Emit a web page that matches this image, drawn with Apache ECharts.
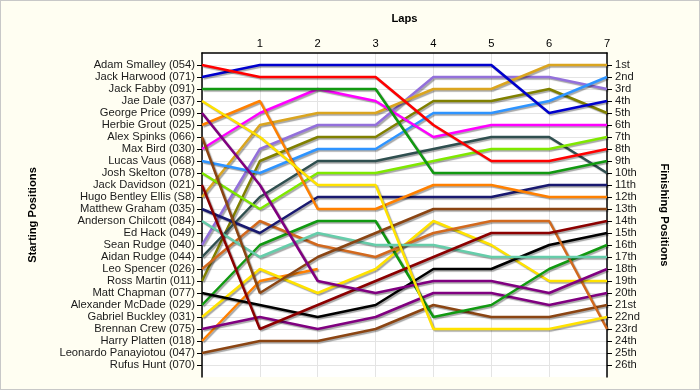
<!DOCTYPE html>
<html>
<head>
<meta charset="utf-8">
<script src="https://cdn.jsdelivr.net/npm/echarts@6/dist/echarts.min.js"></script>
<style>
  html, body { margin: 0; padding: 0; background: #FFFEF2; }
  #chart { width: 700px; height: 390px; box-sizing: border-box; border: 1px solid #c8c8c8; }
</style>
</head>
<body>
<div id="chart"></div>
<script>
// ---- Data ----
const laps = [0, 1, 2, 3, 4, 5, 6, 7];

const startNames = [
  'Adam Smalley (054)', 'Jack Harwood (071)', 'Jack Fabby (091)', 'Jae Dale (037)',
  'George Price (099)', 'Herbie Grout (025)', 'Alex Spinks (066)', 'Max Bird (030)',
  'Lucas Vaus (068)', 'Josh Skelton (078)', 'Jack Davidson (021)', 'Hugo Bentley Ellis (S8)',
  'Matthew Graham (035)', 'Anderson Chilcott (084)', 'Ed Hack (049)', 'Sean Rudge (040)',
  'Aidan Rudge (044)', 'Leo Spencer (026)', 'Ross Martin (011)', 'Matt Chapman (077)',
  'Alexander McDade (029)', 'Gabriel Buckley (031)', 'Brennan Crew (075)', 'Harry Platten (018)',
  'Leonardo Panayiotou (047)', 'Rufus Hunt (070)'
];

const finishLabels = [
  '1st', '2nd', '3rd', '4th', '5th', '6th', '7th', '8th', '9th', '10th', '11th', '12th', '13th',
  '14th', '15th', '16th', '17th', '18th', '19th', '20th', '21st', '22nd', '23rd', '24th', '25th', '26th'
];

// Position at each lap (lap 0 = starting position)
const adamSmalley       = [1, 2, 2, 2, 6, 9, 9, 8];
const jackHarwood       = [2, 1, 1, 1, 1, 1, 5, 4];
const jackFabby         = [3, 3, 3, 3, 10, 10, 10, 9];
const jaeDale           = [4, 7, 11, 11, 23, 23, 23, 22];
const georgePrice       = [5, 11, 19, 20, 19, 19, 20, 18];
const herbieGrout       = [6, 4, 13, 13, 11, 11, 12, 12];
const alexSpinks        = [7, 20, 17, 15, 13, 13, 13, 13];
const maxBird           = [8, 5, 3, 4, 7, 6, 6, 6];
const lucasVaus         = [9, 10, 8, 8, 5, 5, 4, 2];
const joshSkelton       = [10, 13, 10, 10, 9, 8, 8, 7];
const jackDavidson      = [11, 23, 21, 19, 17, 15, 15, 14];
const hugoBentleyEllis  = [12, 6, 5, 5, 3, 3, 1, 1];
const matthewGraham     = [13, 15, 12, 12, 12, 12, 11, 11];
const andersonChilcott  = [14, 17, 15, 16, 16, 17, 17, 17];
const edHack            = [];
const seanRudge         = [16, 8, 6, 6, 2, 2, 2, 3];
const aidanRudge        = [17, 12, 9, 9, 8, 7, 7, 10];
const leoSpencer        = [18, 14, 16, 17, 15, 14, 14, 23];
const rossMartin        = [19, 9, 7, 7, 4, 4, 3, 5];
const mattChapman       = [20, 21, 22, 21, 18, 18, 16, 15];
const alexanderMcDade   = [21, 16, 14, 14, 22, 21, 18, 16];
const gabrielBuckley    = [22, 18, 20, 18, 14, 16, 19, 19];
const brennanCrew       = [23, 22, 23, 22, 20, 20, 21, 20];
const harryPlatten      = [24, 19, 18];
const leonardoPanayiotou= [25, 24, 24, 23, 21, 22, 22, 21];
const rufusHunt         = [];

const positions = [
  adamSmalley, jackHarwood, jackFabby, jaeDale, georgePrice, herbieGrout, alexSpinks, maxBird,
  lucasVaus, joshSkelton, jackDavidson, hugoBentleyEllis, matthewGraham, andersonChilcott, edHack,
  seanRudge, aidanRudge, leoSpencer, rossMartin, mattChapman, alexanderMcDade, gabrielBuckley,
  brennanCrew, harryPlatten, leonardoPanayiotou, rufusHunt
];

// ---- Styles ----
const colors = [
  '#FF0000', '#0000CD', '#119911', '#FFE200', '#800080', '#FF8000', '#8B4513', '#FF00FF',
  '#2E94FF', '#7FE800', '#8B0000', '#DAA520', '#191970', '#66CDAA', '#888888', '#9370DB',
  '#2F4F4F', '#D2691E', '#808000', '#000000', '#119911', '#FFE200', '#800080', '#FF8000',
  '#8B4513', '#888888'
];

const FONT = 'Liberation Sans';
const FS = 11.2;
const yLeft = [''].concat(startNames, ['']);
const yRight = [''].concat(finishLabels, ['']);
const inner = (idx) => idx > 0 && idx < yLeft.length - 1;

const series = positions.map((p, i) => ({
  type: 'line',
  name: startNames[i],
  data: p.map((v, k) => [laps[k], v]),
  symbol: 'none',
  silent: true,
  lineStyle: {
    color: colors[i], width: 2.5,
    shadowColor: 'rgba(0,0,0,0.35)', shadowBlur: 1, shadowOffsetX: 1.5, shadowOffsetY: 1.5
  },
  z: 2 + (positions.length - i)
}));

const chart = echarts.init(document.getElementById('chart'), null, { renderer: 'canvas' });
chart.setOption({
  backgroundColor: '#FFFEF2',
  animation: false,
  grid: {
    left: 201, right: 92, top: 52, bottom: 12,
    show: true, backgroundColor: '#FFFFFF', borderWidth: 0
  },
  xAxis: {
    type: 'value', position: 'top', min: 0, max: 7, interval: 1,
    name: 'Laps', nameLocation: 'middle', nameGap: 29,
    nameTextStyle: { fontFamily: FONT, fontWeight: 'bold', fontSize: FS, color: '#000' },
    axisLine: { show: true, lineStyle: { color: '#000', width: 1.5 } },
    axisTick: { show: false },
    axisLabel: { fontFamily: FONT, fontSize: FS, color: '#000', margin: 4,
      formatter: v => (v === 0 ? '' : String(v)) },
    splitLine: { show: true, lineStyle: { color: '#E4E4E4', width: 1 } }
  },
  yAxis: [
    {
      type: 'category', data: yLeft, inverse: true, boundaryGap: false, position: 'left',
      name: 'Starting Positions', nameLocation: 'middle', nameGap: 164, nameRotate: 90,
      nameTextStyle: { fontFamily: FONT, fontWeight: 'bold', fontSize: FS, color: '#000' },
      axisLine: { show: true, lineStyle: { color: '#000', width: 1.5 } },
      axisTick: { show: true, length: 5, interval: inner, lineStyle: { color: '#000' } },
      axisLabel: { interval: inner, fontFamily: FONT, fontSize: FS, color: '#1a1a1a', margin: 7 },
      splitLine: { show: true, interval: inner, lineStyle: { color: '#E4E4E4', width: 1 } }
    },
    {
      type: 'category', data: yRight, inverse: true, boundaryGap: false, position: 'right',
      name: 'Finishing Positions', nameLocation: 'middle', nameGap: 52, nameRotate: -90,
      nameTextStyle: { fontFamily: FONT, fontWeight: 'bold', fontSize: FS, color: '#000' },
      axisLine: { show: true, lineStyle: { color: '#000', width: 1.5 } },
      axisTick: { show: true, length: 5, interval: inner, lineStyle: { color: '#000' } },
      axisLabel: { interval: inner, fontFamily: FONT, fontSize: FS, color: '#1a1a1a', margin: 8 },
      splitLine: { show: false }
    }
  ],
  series: series
});
</script>
</body>
</html>
